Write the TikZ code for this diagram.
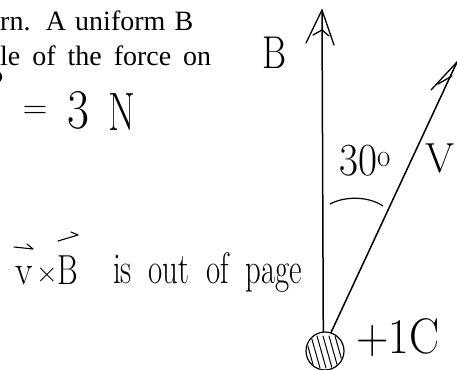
\documentclass[tikz,border=0pt]{standalone}
\usepackage{fontspec}
\usepackage{graphicx}
\newfontfamily\printed{Liberation Serif}
\tikzset{
  hand/.style={inner sep=0pt, font=\fontsize{40}{44}\selectfont},
  vec/.style={line width=1.5pt, line cap=round, line join=round},
  head/.style={line width=1.3pt, line cap=round, line join=round},
  scrib/.style={line width=1pt, line cap=round},
  over/.style={line width=1.1pt, line cap=round, line join=round}
}
\begin{document}
\begin{tikzpicture}[x=1pt,y=-1pt]
\useasboundingbox (0,0) rectangle (457,369);
\clip (0,0) rectangle (457,369);
% printed lines (justified)
\node[anchor=base west, inner sep=0pt, font=\printed\fontsize{28}{32}\selectfont] (l1) at (0,31) {\makebox[193pt][s]{rn. A uniform B}};
\node[anchor=base west, inner sep=0pt, font=\printed\fontsize{28}{32}\selectfont] (l2) at (0,65) {\makebox[211pt][s]{le of the force on}};
% handwritten answer
\node[hand, anchor=base east, font=\fontsize{40}{44}\selectfont] (F) at (5,97) {P};
\node[hand, font=\fontsize{34}{40}\selectfont] (eq) at (35,112) {=};
\node[hand, font=\fontsize{56}{60}\selectfont] (three) at (78,110) {\scalebox{0.85}[1]{3}};
\node[hand, font=\fontsize{54}{60}\selectfont] (N) at (122,112) {\scalebox{0.72}[1]{N}};
% charge
\node[draw, circle, line width=1.2pt, minimum size=38pt, inner sep=0pt] (q) at (325,351) {};
\begin{scope}
\clip (325,351) circle (18);
\foreach \x in {305,311,...,345} {
  \draw[scrib] (\x,336) -- (\x+9,368);
}
\end{scope}
\node[hand, font=\fontsize{50}{56}\selectfont] (qlab) at (398,338) {\scalebox{0.9}[1]{+1C}};
% B vector
\coordinate (btip) at (322,10);
\draw[vec] (q.95) -- (btip);
\draw[head] (306,43) -- (btip) -- (334,45);
\draw[head] (313,35) -- (322,30) -- (329,36);
\node[hand, font=\fontsize{46}{50}\selectfont] (Blab) at (275,53) {\scalebox{0.8}[1]{B}};
% V vector
\coordinate (vtip) at (457,62);
\draw[vec] (q.72) -- (vtip);
\draw[head] (431,90) -- (vtip) -- (462,98);
\draw[head] (438,84) -- (452,76);
\node[hand, font=\fontsize{42}{46}\selectfont] (Vlab) at (440,158) {V};
% angle
\node[hand, font=\fontsize{46}{50}\selectfont] (ang) at (365,161) {\scalebox{0.9}[1]{30\textsuperscript{o}}};
\draw[line width=1.2pt] (330,204) .. controls (345,196) and (368,196) .. (383,206);
% note: v x B is out of page
\node[hand, anchor=base, font=\fontsize{42}{46}\selectfont] (vv) at (24,284) {\scalebox{0.85}[1]{v}};
\node[hand, anchor=base, font=\fontsize{30}{34}\selectfont] (xx) at (47,282) {×};
\node[hand, anchor=base, font=\fontsize{42}{46}\selectfont] (bb) at (68,284) {\scalebox{0.75}[1]{B}};
\draw[over] (14,247) -- (33,249) -- (27,244);
\draw[over] (58,241) -- (78,235) -- (71,232);
\node[hand, anchor=base west, font=\fontsize{44}{48}\selectfont] (note) at (113,283) {\scalebox{0.7}[1]{\makebox[270pt][s]{is out of page}}};
\end{tikzpicture}
\end{document}
